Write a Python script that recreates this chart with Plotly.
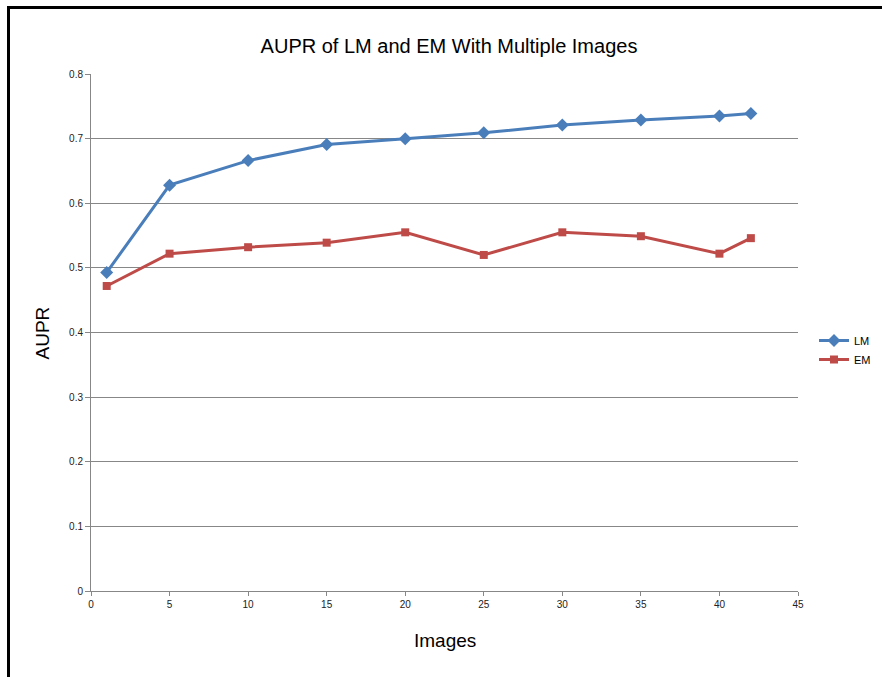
import plotly.graph_objects as go

# Number of images used and AUPR for each method
images = [1, 5, 10, 15, 20, 25, 30, 35, 40, 42]
aupr_lm = [0.493, 0.628, 0.666, 0.691, 0.700, 0.709, 0.721, 0.729, 0.735, 0.739]
aupr_em = [0.472, 0.522, 0.532, 0.539, 0.555, 0.520, 0.555, 0.549, 0.522, 0.546]

W, H = 882, 677
L, R, T, B = 91, 84, 74, 86
pw, ph = W - L - R, H - T - B

FONT = "Liberation Sans, Arial, sans-serif"
GRID = "#878787"

fig = go.Figure()
fig.add_trace(go.Scatter(
    x=images, y=aupr_lm, name="LM", mode="lines+markers",
    line=dict(color="#4A7EBB", width=3),
    marker=dict(symbol="diamond", size=10, color="#4A7EBB"),
))
fig.add_trace(go.Scatter(
    x=images, y=aupr_em, name="EM", mode="lines+markers",
    line=dict(color="#BE4B48", width=3),
    marker=dict(symbol="square", size=8, color="#BE4B48"),
))

fig.update_layout(
    width=W, height=H,
    margin=dict(l=L, r=R, t=T, b=B, autoexpand=False),
    paper_bgcolor="white", plot_bgcolor="white",
    font=dict(family=FONT, color="#000000"),
    title=dict(text="AUPR of LM and EM With Multiple Images",
               font=dict(size=20, color="#000000"),
               x=449 / W, xanchor="center",
               y=1 - 46 / H, yanchor="middle"),
    xaxis=dict(range=[0, 45], dtick=5, tick0=0,
               showgrid=False, zeroline=False,
               showline=True, linecolor=GRID, linewidth=1,
               ticks="outside", ticklen=4, tickcolor=GRID,
               tickfont=dict(size=10, color="#222222")),
    yaxis=dict(range=[0, 0.8], dtick=0.1, tick0=0,
               showgrid=True, gridcolor=GRID, gridwidth=1,
               zeroline=False,
               showline=True, linecolor=GRID, linewidth=1,
               ticks="outside", ticklen=5, tickcolor=GRID,
               tickformat="~g",
               tickfont=dict(size=10, color="#222222")),
    legend=dict(x=(814 - L) / pw, xanchor="left",
                y=(B + ph - 362) / ph - (B / ph) + (B / ph), yanchor="middle",
                font=dict(size=11),
                bgcolor="rgba(0,0,0,0)", itemwidth=30,
                tracegroupgap=2),
    showlegend=True,
)

# Axis titles
fig.add_annotation(text="AUPR", xref="paper", yref="paper",
                   x=(42 - L) / pw, y=0.5, textangle=-90,
                   showarrow=False, font=dict(size=19, color="#000000"),
                   xanchor="center", yanchor="middle")
fig.add_annotation(text="Images", xref="paper", yref="paper",
                   x=(445 - L) / pw, y=-(640 - (T + ph)) / ph,
                   showarrow=False, font=dict(size=19, color="#000000"),
                   xanchor="center", yanchor="middle")

# Outer chart frame (left and top edges visible)
fig.add_shape(type="rect", xref="paper", yref="paper",
              x0=(8.5 - L) / pw, x1=2.0,
              y0=-2.0, y1=(T + ph - 7.5) / ph,
              line=dict(color="black", width=3), layer="above")

fig.write_html("out.html")
